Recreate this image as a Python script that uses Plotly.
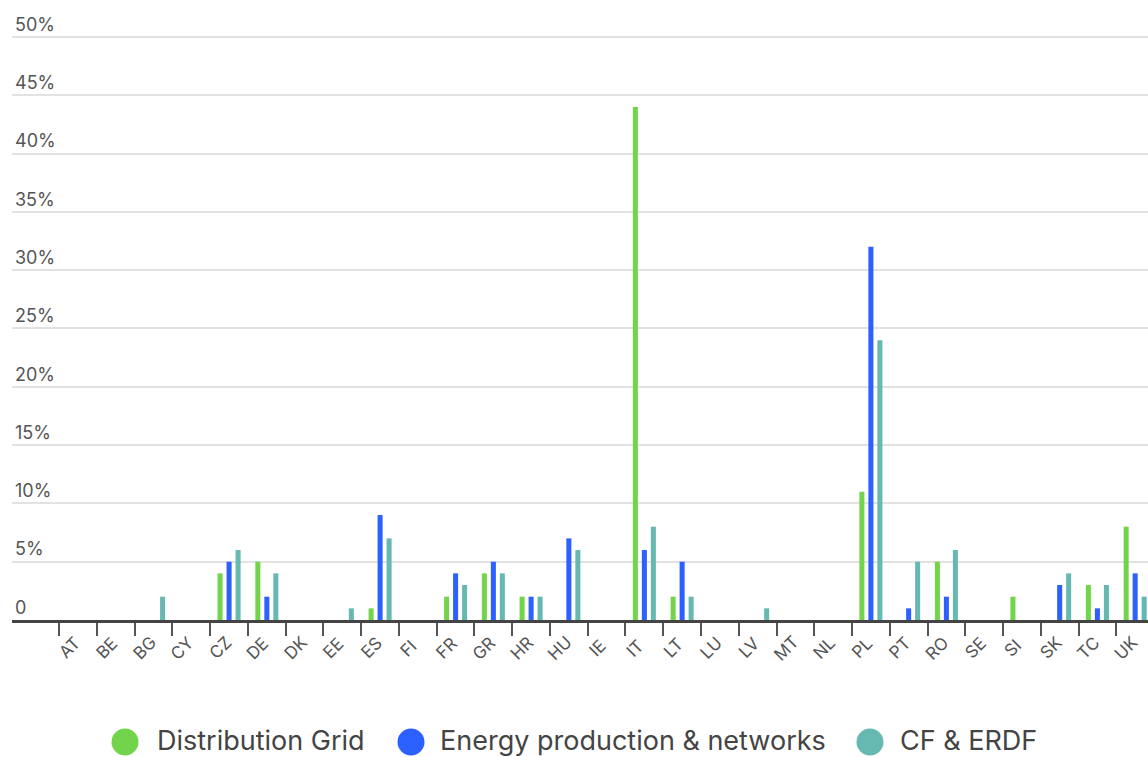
import plotly.graph_objects as go

# Share of funding by country for each programme (%)
countries = ["AT", "BE", "BG", "CY", "CZ", "DE", "DK", "EE", "ES", "FI",
             "FR", "GR", "HR", "HU", "IE", "IT", "LT", "LU", "LV", "MT",
             "NL", "PL", "PT", "RO", "SE", "SI", "SK", "TC", "UK"]

distribution_grid = [0, 0, 0, 0, 4, 5, 0, 0, 1, 0,
                     2, 4, 2, 0, 0, 44, 2, 0, 0, 0,
                     0, 11, 0, 5, 0, 2, 0, 3, 8]

energy_production = [0, 0, 0, 0, 5, 2, 0, 0, 9, 0,
                     4, 5, 2, 7, 0, 6, 5, 0, 0, 0,
                     0, 32, 1, 2, 0, 0, 3, 1, 4]

cf_erdf = [0, 0, 2, 0, 6, 4, 0, 1, 7, 0,
           3, 4, 2, 6, 0, 8, 2, 0, 1, 0,
           0, 24, 5, 6, 0, 0, 4, 3, 2]

series_names = ["Distribution Grid", "Energy production & networks", "CF & ERDF"]
series_values = [distribution_grid, energy_production, cf_erdf]
series_colors = ["#72d44b", "#2c60ff", "#66b9b1"]

y_tick_values = [0, 5, 10, 15, 20, 25, 30, 35, 40, 45, 50]
y_tick_labels = ["0", "5%", "10%", "15%", "20%", "25%", "30%", "35%", "40%", "45%", "50%"]

FONT = "Inter"
W, H = 1148, 757
M_L, M_R, M_T, M_B = 12, 0, 0, 137
plot_w = W - M_L - M_R
plot_h = H - M_T - M_B


def paper_y(px):
    """Convert a page pixel row into paper y for this layout."""
    return (plot_h + M_T - px) / plot_h


def paper_x(px):
    return (px - M_L) / plot_w


# Countries sit at integer slots; tick marks go on the slot boundaries
slots = list(range(len(countries)))
boundaries = [i - 0.5 for i in slots] + [len(countries) - 0.5]

fig = go.Figure()
for name, vals, col in zip(series_names, series_values, series_colors):
    fig.add_trace(go.Bar(
        x=slots, y=vals, name=name,
        customdata=countries,
        marker=dict(color=col, line=dict(width=0)),
        showlegend=False,
        hovertemplate="%{customdata}: %{y}%<extra>" + name + "</extra>",
    ))

annotations = []
shapes = []

# Slanted country labels hanging below the axis, centred a little left of each slot
for i, c in zip(slots, countries):
    annotations.append(dict(
        text=c, xref="x", yref="paper",
        x=i - 0.24, y=paper_y(648),
        xanchor="center", yanchor="middle", showarrow=False,
        textangle=-45,
        font=dict(family=FONT, size=17, color="#555555"),
    ))

# Custom legend row: large round swatches with labels, centred under the plot
legend_y_px = 740
swatch_x_px = [125, 411, 870]
label_x_px = [155, 438, 898]
for name, col, sx, lx in zip(series_names, series_colors, swatch_x_px, label_x_px):
    shapes.append(dict(
        type="circle", xref="paper", yref="paper",
        xsizemode="pixel", ysizemode="pixel",
        xanchor=paper_x(sx), yanchor=paper_y(legend_y_px + 2),
        x0=-13.5, x1=13.5, y0=-13.5, y1=13.5,
        fillcolor=col, line=dict(width=0),
    ))
    annotations.append(dict(
        text=name, xref="paper", yref="paper",
        x=paper_x(lx), y=paper_y(legend_y_px),
        xanchor="left", yanchor="middle", showarrow=False,
        font=dict(family=FONT, size=27, color="#444444"),
    ))

fig.update_layout(
    width=W, height=H,
    margin=dict(l=M_L, r=M_R, t=M_T, b=M_B),
    paper_bgcolor="white", plot_bgcolor="white",
    barmode="group", bargap=0.285, bargroupgap=0.44,
    font=dict(family=FONT, color="#555555"),
    shapes=shapes, annotations=annotations,
    xaxis=dict(
        type="linear",
        range=[-1.75, 28.34],
        tickmode="array", tickvals=slots, ticktext=countries,
        showticklabels=False, ticks="",
        minor=dict(tickmode="array", tickvals=boundaries,
                   ticks="outside", ticklen=13, tickwidth=2,
                   tickcolor="#555555", showgrid=False),
        showline=True, linecolor="#444444", linewidth=2.5,
        showgrid=False, zeroline=False,
    ),
    yaxis=dict(
        range=[0, 53.17],
        tickvals=y_tick_values, ticktext=y_tick_labels,
        ticklabelposition="inside top",
        tickfont=dict(family=FONT, size=18, color="#555555"),
        showgrid=True, gridcolor="#e2e2e2", gridwidth=1.5,
        zeroline=False, showline=False, ticks="",
    ),
)

fig.write_html("out.html")
